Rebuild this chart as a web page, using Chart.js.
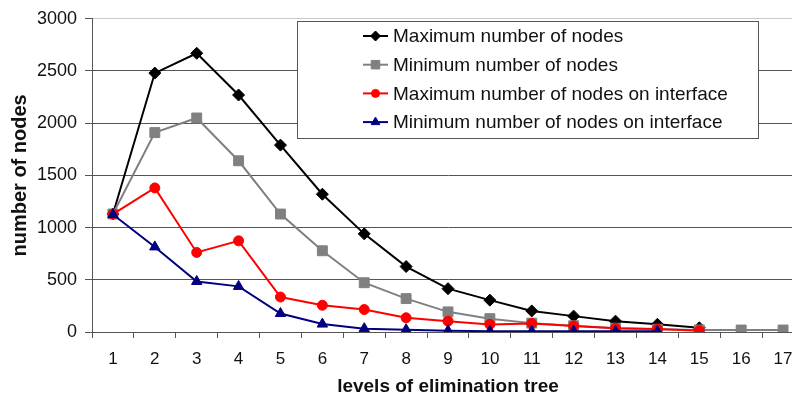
<!DOCTYPE html>
<html>
<head>
<meta charset="utf-8">
<title>Nodes per level of elimination tree</title>
<script src="https://cdn.jsdelivr.net/npm/chart.js@4/dist/chart.umd.min.js"></script>
<style>
    html, body {
        margin: 0;
        padding: 0;
        background: #fff;
        overflow: hidden;
    }
    #wrap {
        width: 792px;
        height: 403px;
        overflow: hidden;
    }
</style>
</head>
<body>
<div id="wrap">
    <canvas id="chart" width="815" height="403"></canvas>
</div>
<script>
var levels = ["1", "2", "3", "4", "5", "6", "7", "8", "9", "10", "11", "12", "13", "14", "15", "16", "17"];
var maxNodes = [1130, 2480, 2670, 2270, 1790, 1320, 940, 627, 415, 305, 202, 152, 104, 74, 40];
var minNodes = [1130, 1910, 2050, 1640, 1130, 778, 472, 320, 193, 128, 85, 60, 36, 26, 20, 19, 19];
var maxInterface = [1130, 1380, 762, 873, 335, 256, 215, 136, 104, 73, 82, 58, 35, 28, 13];
var minInterface = [1125, 815, 484, 437, 177, 76, 32, 22, 12, 8, 8, 8, 6, 6];
var yTicks = [0, 500, 1000, 1500, 2000, 2500, 3000];

var font = "'Liberation Sans', Arial, sans-serif";

// later series are drawn on top, like in the original
function makeSeries(label, data, color, pointStyle, radius, order) {
    return {
        label: label,
        data: data,
        order: order,
        borderColor: color,
        backgroundColor: color,
        borderWidth: 2,
        pointStyle: pointStyle,
        pointRadius: radius,
        pointBorderWidth: 1,
        pointBorderColor: color,
        pointBackgroundColor: color,
        tension: 0
    };
}

// legend box drawn over the plot, line sample with its marker
var boxLegend = {
    id: "boxLegend",
    afterDatasetsDraw: function (chart) {
        var ctx = chart.ctx;
        var left = 297, top = 21, width = 461, height = 117;
        var sizes = { rectRot: 5, rect: 6, circle: 4, triangle: 5 };
        ctx.save();
        ctx.fillStyle = "#fff";
        ctx.fillRect(left, top, width, height);
        ctx.strokeStyle = "#555";
        ctx.lineWidth = 1;
        ctx.strokeRect(left + 0.5, top + 0.5, width, height);
        ctx.font = "19px " + font;
        ctx.textBaseline = "middle";
        chart.data.datasets.forEach(function (ds, i) {
            var y = 36 + i * 28.7;
            ctx.strokeStyle = ds.borderColor;
            ctx.lineWidth = 2;
            ctx.beginPath();
            ctx.moveTo(363, y);
            ctx.lineTo(388, y);
            ctx.stroke();
            ctx.fillStyle = ds.borderColor;
            ctx.lineWidth = 1;
            Chart.helpers.drawPoint(ctx, {
                pointStyle: ds.pointStyle,
                radius: sizes[ds.pointStyle],
                rotation: 0,
                borderWidth: 1
            }, 375.5, y);
            ctx.fillStyle = "#111";
            ctx.fillText(ds.label, 393, y + 1);
        });
        ctx.restore();
    }
};

function loadChart() {
    var ctx = document.getElementById("chart");
    var config = {
        type: "line",
        data: {
            labels: levels,
            datasets: [
                makeSeries("Maximum number of nodes", maxNodes, "#000000", "rectRot", 6, 3),
                makeSeries("Minimum number of nodes", minNodes, "#808080", "rect", 7, 2),
                makeSeries("Maximum number of nodes on interface", maxInterface, "#ff0000", "circle", 5, 1),
                makeSeries("Minimum number of nodes on interface", minInterface, "#000080", "triangle", 6, 0)
            ]
        },
        options: {
            responsive: false,
            animation: false,
            layout: {
                padding: { top: 16, right: 11, left: 0, bottom: 0 }
            },
            plugins: {
                legend: { display: false },
                tooltip: { enabled: false }
            },
            scales: {
                x: {
                    offset: true,
                    grid: {
                        offset: true,
                        drawOnChartArea: false,
                        drawTicks: true,
                        tickLength: 6,
                        color: "#555"
                    },
                    border: { color: "#555", width: 1 },
                    ticks: {
                        color: "#111",
                        padding: 11,
                        autoSkip: false,
                        maxRotation: 0,
                        font: { family: font, size: 17 }
                    },
                    title: {
                        display: true,
                        text: "levels of elimination tree",
                        color: "#111",
                        padding: { top: 4, bottom: 5 },
                        font: { family: font, size: 19, weight: "bold" }
                    },
                    afterFit: function (scale) {
                        scale.height = 71;
                    }
                },
                y: {
                    min: 0,
                    max: 3000,
                    afterBuildTicks: function (scale) {
                        scale.ticks = yTicks.map(function (v) {
                            return { value: v };
                        });
                    },
                    grid: {
                        color: function (c) {
                            return c.tick && c.tick.value == 3000 ? "#c8c8c8" : "#555";
                        },
                        tickColor: "#555",
                        tickLength: 7,
                        lineWidth: 1
                    },
                    border: { color: "#555", width: 1 },
                    ticks: {
                        color: "#111",
                        padding: 8,
                        font: { family: font, size: 18 },
                        callback: function (value) {
                            return String(value);
                        }
                    },
                    title: {
                        display: true,
                        text: "number of nodes",
                        color: "#111",
                        padding: { top: 8, bottom: 0 },
                        font: { family: font, size: 20, weight: "bold" }
                    },
                    afterFit: function (scale) {
                        scale.width = 92;
                    }
                }
            }
        },
        plugins: [boxLegend]
    };
    var chart = new Chart(ctx, config);
}

loadChart();
</script>
</body>
</html>
